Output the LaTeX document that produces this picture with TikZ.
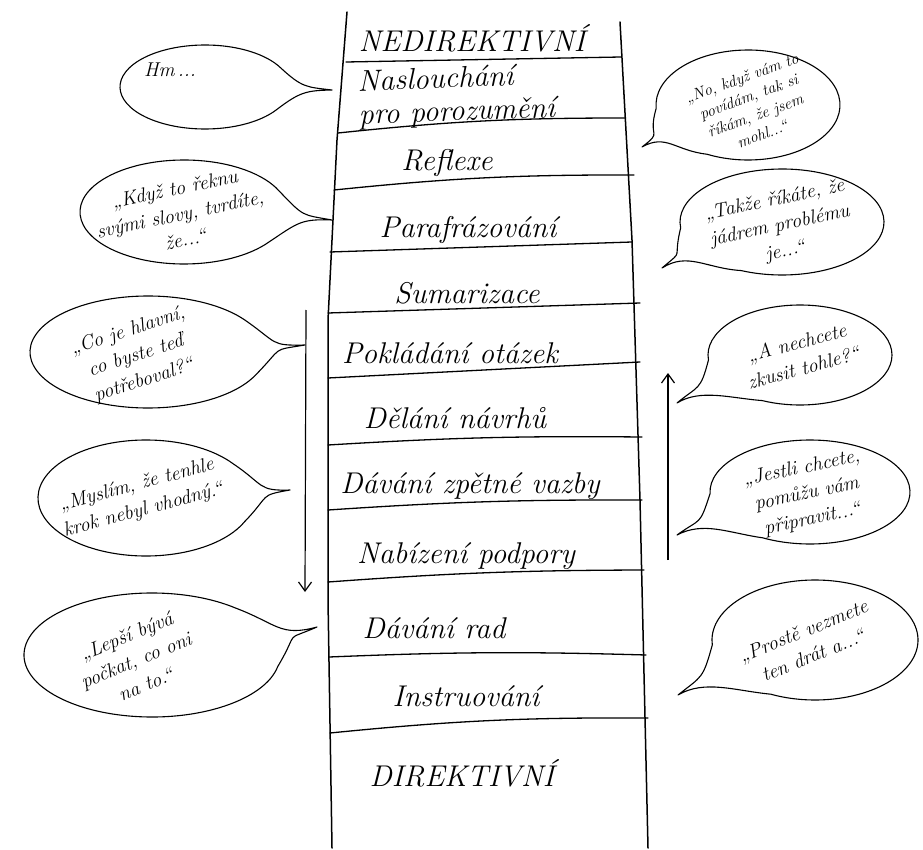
\documentclass[tikz,border=0pt]{standalone}
\usetikzlibrary{calc,arrows.meta}
\newcommand\mybubble[7]{%
  \coordinate (#1c) at (#2,#3);
  \coordinate (#1t) at (#6,#7);
  \pgfmathsetmacro\bth{atan2((#7-#3)/#5,(#6-#2)/#4)}%
  \pgfmathsetmacro\bsa{\bth+30}%
  \pgfmathsetmacro\bea{\bth+330}%
  \pgfmathsetmacro\bouta{\bth+40}%
  \pgfmathsetmacro\bina{\bth+184}%
  \pgfmathsetmacro\boutb{\bth+176}%
  \pgfmathsetmacro\binb{\bth-40}%
  \pgfmathsetmacro\bda{0.35*#4}%
  \pgfmathsetmacro\bdb{0.30*#4}%
  \coordinate (#1s) at ($(#1c)+(\bsa:#4 and #5)$);
  \draw[bub] (#1s) arc[start angle=\bsa, end angle=\bea, x radius=#4, y radius=#5]
     .. controls +(\bouta:\bda) and +(\bina:\bdb) .. (#1t)
     .. controls +(\boutb:\bdb) and +(\binb:\bda) .. (#1s);
}
\begin{document}
\begin{tikzpicture}[x=1pt,y=-1pt,
  rail/.style={line width=1.5pt, line cap=round, line join=round},
  rung/.style={line width=1.3pt, line cap=round},
  bub/.style={line width=1.1pt, line join=round},
  arr/.style={line width=1.2pt, -{Straight Barb[length=9pt,width=13pt]}},
  lbl/.style={font=\fontsize{30}{33}\selectfont\itshape, inner sep=0pt},
  say/.style={font=\fontsize{20}{26}\selectfont\itshape, align=center, inner sep=0pt}]
\useasboundingbox[fill=white] (0,0) rectangle (923,850);

% rails
\draw[rail] (347,12) -- (337,140) -- (328,320) -- (328,600) -- (332,848);
\draw[rail] (620,22) -- (632,240) -- (640,500) -- (648,848);
% rungs
\draw[rung] (346,62) -- (621,57);
\draw[rung] (338,133) to[bend left=3] (625,118);
\draw[rung] (334,190) to[bend left=3] (634,175);
\draw[rung] (330,252) -- (632,242);
\draw[rung] (328,313) -- (640,303);
\draw[rung] (328,378) -- (640,362);
\draw[rung] (328,445) to[bend left=2] (642,437);
\draw[rung] (328,510) to[bend left=2] (642,500);
\draw[rung] (328,582) to[bend left=2] (644,570);
\draw[rung] (329,657) to[bend left=2] (646,655);
\draw[rung] (330,733) to[bend left=3] (648,718);

% ladder labels
\node[lbl] (n0) at (472,38) {NEDIREKTIVNÍ};
\node[lbl, align=left, anchor=west, rotate=2] (n1) at (358,100) {Naslouchání\\pro porozumění};
\node[lbl] (n2) at (447,163) {Reflexe};
\node[lbl] (n3) at (468,230) {Parafrázování};
\node[lbl] (n4) at (467,293) {Sumarizace};
\node[lbl] (n5) at (450,353) {Pokládání otázek};
\node[lbl] (n6) at (455,418) {Dělání návrhů};
\node[lbl] (n7) at (470,486) {Dávání zpětné vazby};
\node[lbl] (n8) at (466,556) {Nabízení podpory};
\node[lbl] (n9) at (434,628) {Dávání rad};
\node[lbl] (n10) at (466,696) {Instruování};
\node[lbl] (n11) at (462,773) {DIREKTIVNÍ};

% arrows
\coordinate (la1) at (306,310);
\coordinate (la2) at (305,592);
\coordinate (ra1) at (668,560);
\coordinate (ra2) at (668,373);
\draw[arr] (la1) -- (la2);
\draw[arr] (ra1) -- (ra2);

% bubbles
\mybubble{b1}{205}{87}{85}{42}{332}{90}
\node[say] (t1) at (170,70) {Hm\,...};
\mybubble{b2}{748}{105}{92}{55}{642}{147}
\node[say, rotate=20, font=\fontsize{16}{20}\selectfont\itshape] (t2) at (752,106) {„No, když vám to\\povídám, tak si\\říkám, že jsem\\mohl...“};
\mybubble{b3}{184}{212}{104}{52}{332}{220}
\node[say, rotate=12] (t3) at (180,214) {„Když to řeknu\\svými slovy, tvrdíte,\\že...“};
\mybubble{b4}{782}{222}{102}{53}{662}{268}
\node[say, rotate=12] (t4) at (780,226) {„Takže říkáte, že\\jádrem problému\\je...“};
\mybubble{b5}{148}{352}{118}{56}{305}{345}
\node[say, rotate=18] (t5) at (136,356) {„Co je hlavní,\\co byste teď\\potřeboval?“};
\mybubble{b6}{800}{355}{92}{50}{677}{403}
\node[say, rotate=15] (t6) at (800,355) {„A nechcete\\zkusit tohle?“};
\mybubble{b7}{146}{498}{108}{58}{290}{490}
\node[say, rotate=15] (t7) at (140,498) {„Myslím, že tenhle\\krok nebyl vhodný.“};
\mybubble{b8}{810}{492}{100}{52}{677}{535}
\node[say, rotate=12] (t8) at (807,494) {„Jestli chcete,\\pomůžu vám\\připravit...“};
\mybubble{b9}{152}{655}{128}{62}{317}{627}
\node[say, rotate=22] (t9) at (136,660) {„Lepší bývá\\počkat, co oni\\na to.“};
\mybubble{b10}{815}{640}{103}{60}{678}{695}
\node[say, rotate=22] (t10) at (808,643) {„Prostě vezmete\\ten drát a...“};
\end{tikzpicture}
\end{document}
